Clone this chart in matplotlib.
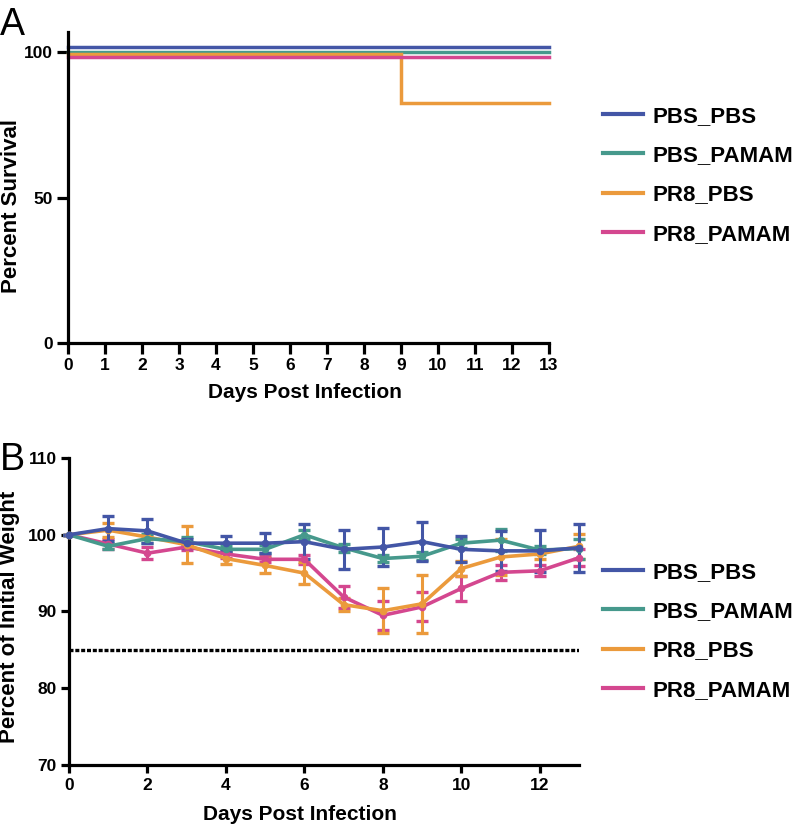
import matplotlib
matplotlib.use("Agg")
import matplotlib.pyplot as plt
import numpy as np

plt.rcParams["font.family"] = ["Liberation Sans", "DejaVu Sans"]

W, H = 796, 825

# ---- data ----------------------------------------------------------------
groups = ["PBS_PBS", "PBS_PAMAM", "PR8_PBS", "PR8_PAMAM"]
colors = ["#4356a6", "#46998c", "#eb9a3c", "#d4478f"]

# survival (Kaplan-Meier steps): days where the curve changes, percent alive
surv_days = {
    "PBS_PBS":   [0, 13],
    "PBS_PAMAM": [0, 13],
    "PR8_PBS":   [0, 9, 13],
    "PR8_PAMAM": [0, 13],
}
surv_pct = {
    "PBS_PBS":   [100, 100],
    "PBS_PAMAM": [100, 100],
    "PR8_PBS":   [100, 83.3, 83.3],
    "PR8_PAMAM": [100, 100],
}
# small vertical nudge so overlapping curves stay visible
surv_nudge = {"PBS_PBS": 1.8, "PBS_PAMAM": 0.1, "PR8_PBS": -0.6, "PR8_PAMAM": -1.7}

days = list(range(14))
weight_mean = {
    "PBS_PBS":   [100, 100.8, 100.5, 98.9, 98.9, 98.9, 99.1, 98.1, 98.4, 99.1, 98.1, 97.9, 97.9, 98.3],
    "PBS_PAMAM": [100, 98.5, 99.5, 99.1, 98.1, 98.1, 100.0, 98.3, 96.9, 97.2, 98.9, 99.3, 98.0, 98.2],
    "PR8_PBS":   [100, 100.6, 99.7, 98.7, 96.9, 96.0, 95.0, 90.9, 90.1, 91.0, 95.6, 97.1, 97.5, 98.5],
    "PR8_PAMAM": [100, 98.8, 97.6, 98.4, 97.5, 96.8, 96.8, 91.9, 89.5, 90.6, 93.0, 95.1, 95.3, 97.0],
}
weight_sem = {
    "PBS_PBS":   [0, 1.6, 1.6, 0.6, 1.0, 1.3, 2.3, 2.5, 2.5, 2.5, 1.7, 2.6, 2.7, 3.1],
    "PBS_PAMAM": [0, 0.4, 0.6, 0.6, 0.4, 0.5, 0.6, 0.5, 0.4, 0.5, 0.6, 1.4, 0.5, 1.3],
    "PR8_PBS":   [0, 0.9, 0.3, 2.4, 0.7, 1.0, 1.4, 0.9, 2.9, 3.8, 1.0, 2.3, 0.6, 1.6],
    "PR8_PAMAM": [0, 0.6, 0.8, 0.4, 0.5, 0.4, 0.6, 1.4, 1.9, 1.9, 1.6, 1.0, 0.7, 1.1],
}
weight_cutoff = 85

# ---- figure --------------------------------------------------------------
fig = plt.figure(figsize=(W / 100, H / 100), dpi=100)
fig.patch.set_facecolor("white")


def px_box(left, top, right, bottom):
    return [left / W, 1 - bottom / H, (right - left) / W, (bottom - top) / H]


def style_axes(ax, ticklen):
    for s in ("top", "right"):
        ax.spines[s].set_visible(False)
    for s in ("left", "bottom"):
        ax.spines[s].set_linewidth(2.3)
    ax.tick_params(width=2.3, length=ticklen, labelsize=12.5, pad=3)
    for lab in ax.get_xticklabels() + ax.get_yticklabels():
        lab.set_fontweight("bold")


# panel A: survival
axA = fig.add_axes(px_box(68, 32, 549, 343))
for g, c in zip(groups, colors):
    y = np.array(surv_pct[g]) + surv_nudge[g]
    axA.step(surv_days[g], y, where="post", color=c, lw=2.5,
             solid_joinstyle="miter", clip_on=False, label=g)
axA.set_xlim(0, 13)
axA.set_ylim(0, 107)
axA.set_xticks(range(14))
axA.set_yticks([0, 50, 100])
style_axes(axA, 8)

# panel B: weight
axB = fig.add_axes(px_box(69, 458, 579, 765))
axB.plot([0, 13], [weight_cutoff] * 2, color="black", lw=2.4,
         dashes=(1.2, 0.55), zorder=1)
order = ["PR8_PAMAM", "PR8_PBS", "PBS_PAMAM", "PBS_PBS"]
for g in order:
    c = colors[groups.index(g)]
    axB.errorbar(days, weight_mean[g], yerr=weight_sem[g], color=c, lw=2.6,
                 elinewidth=2.2, capsize=4.2, capthick=2.4, marker="o",
                 markersize=4.5, clip_on=False, zorder=3)
axB.set_xlim(0, 13)
axB.set_ylim(70, 110)
axB.set_xticks(range(0, 13, 2))
axB.set_yticks(range(70, 111, 10))
style_axes(axB, 6)

# legends
handles = [plt.Line2D([], [], color=c, lw=3.0) for c in colors]
for top in (106, 562):
    fig.legend(handles, groups, loc="upper left",
               bbox_to_anchor=(603 / W, 1 - top / H), frameon=False,
               prop={"weight": "bold", "size": 16}, handlelength=1.8,
               handletextpad=0.45, labelspacing=0.82, borderpad=0,
               borderaxespad=0)

# labels
fig.text(0, 1 - 35 / H, "A", fontsize=27, ha="left", va="baseline")
fig.text(0, 1 - 470 / H, "B", fontsize=27, ha="left", va="baseline")
fig.text(12 / W, 1 - 206 / H, "Percent Survival", rotation=90,
         fontsize=16, fontweight="bold", ha="center", va="center")
fig.text(10 / W, 1 - 617 / H, "Percent of Initial Weight", rotation=90,
         fontsize=16, fontweight="bold", ha="center", va="center")
fig.text(305 / W, 1 - 398 / H, "Days Post Infection", fontsize=15,
         fontweight="bold", ha="center", va="baseline")
fig.text(300 / W, 1 - 820 / H, "Days Post Infection", fontsize=15,
         fontweight="bold", ha="center", va="baseline")

fig.savefig("out.png", dpi=100, facecolor="white")
